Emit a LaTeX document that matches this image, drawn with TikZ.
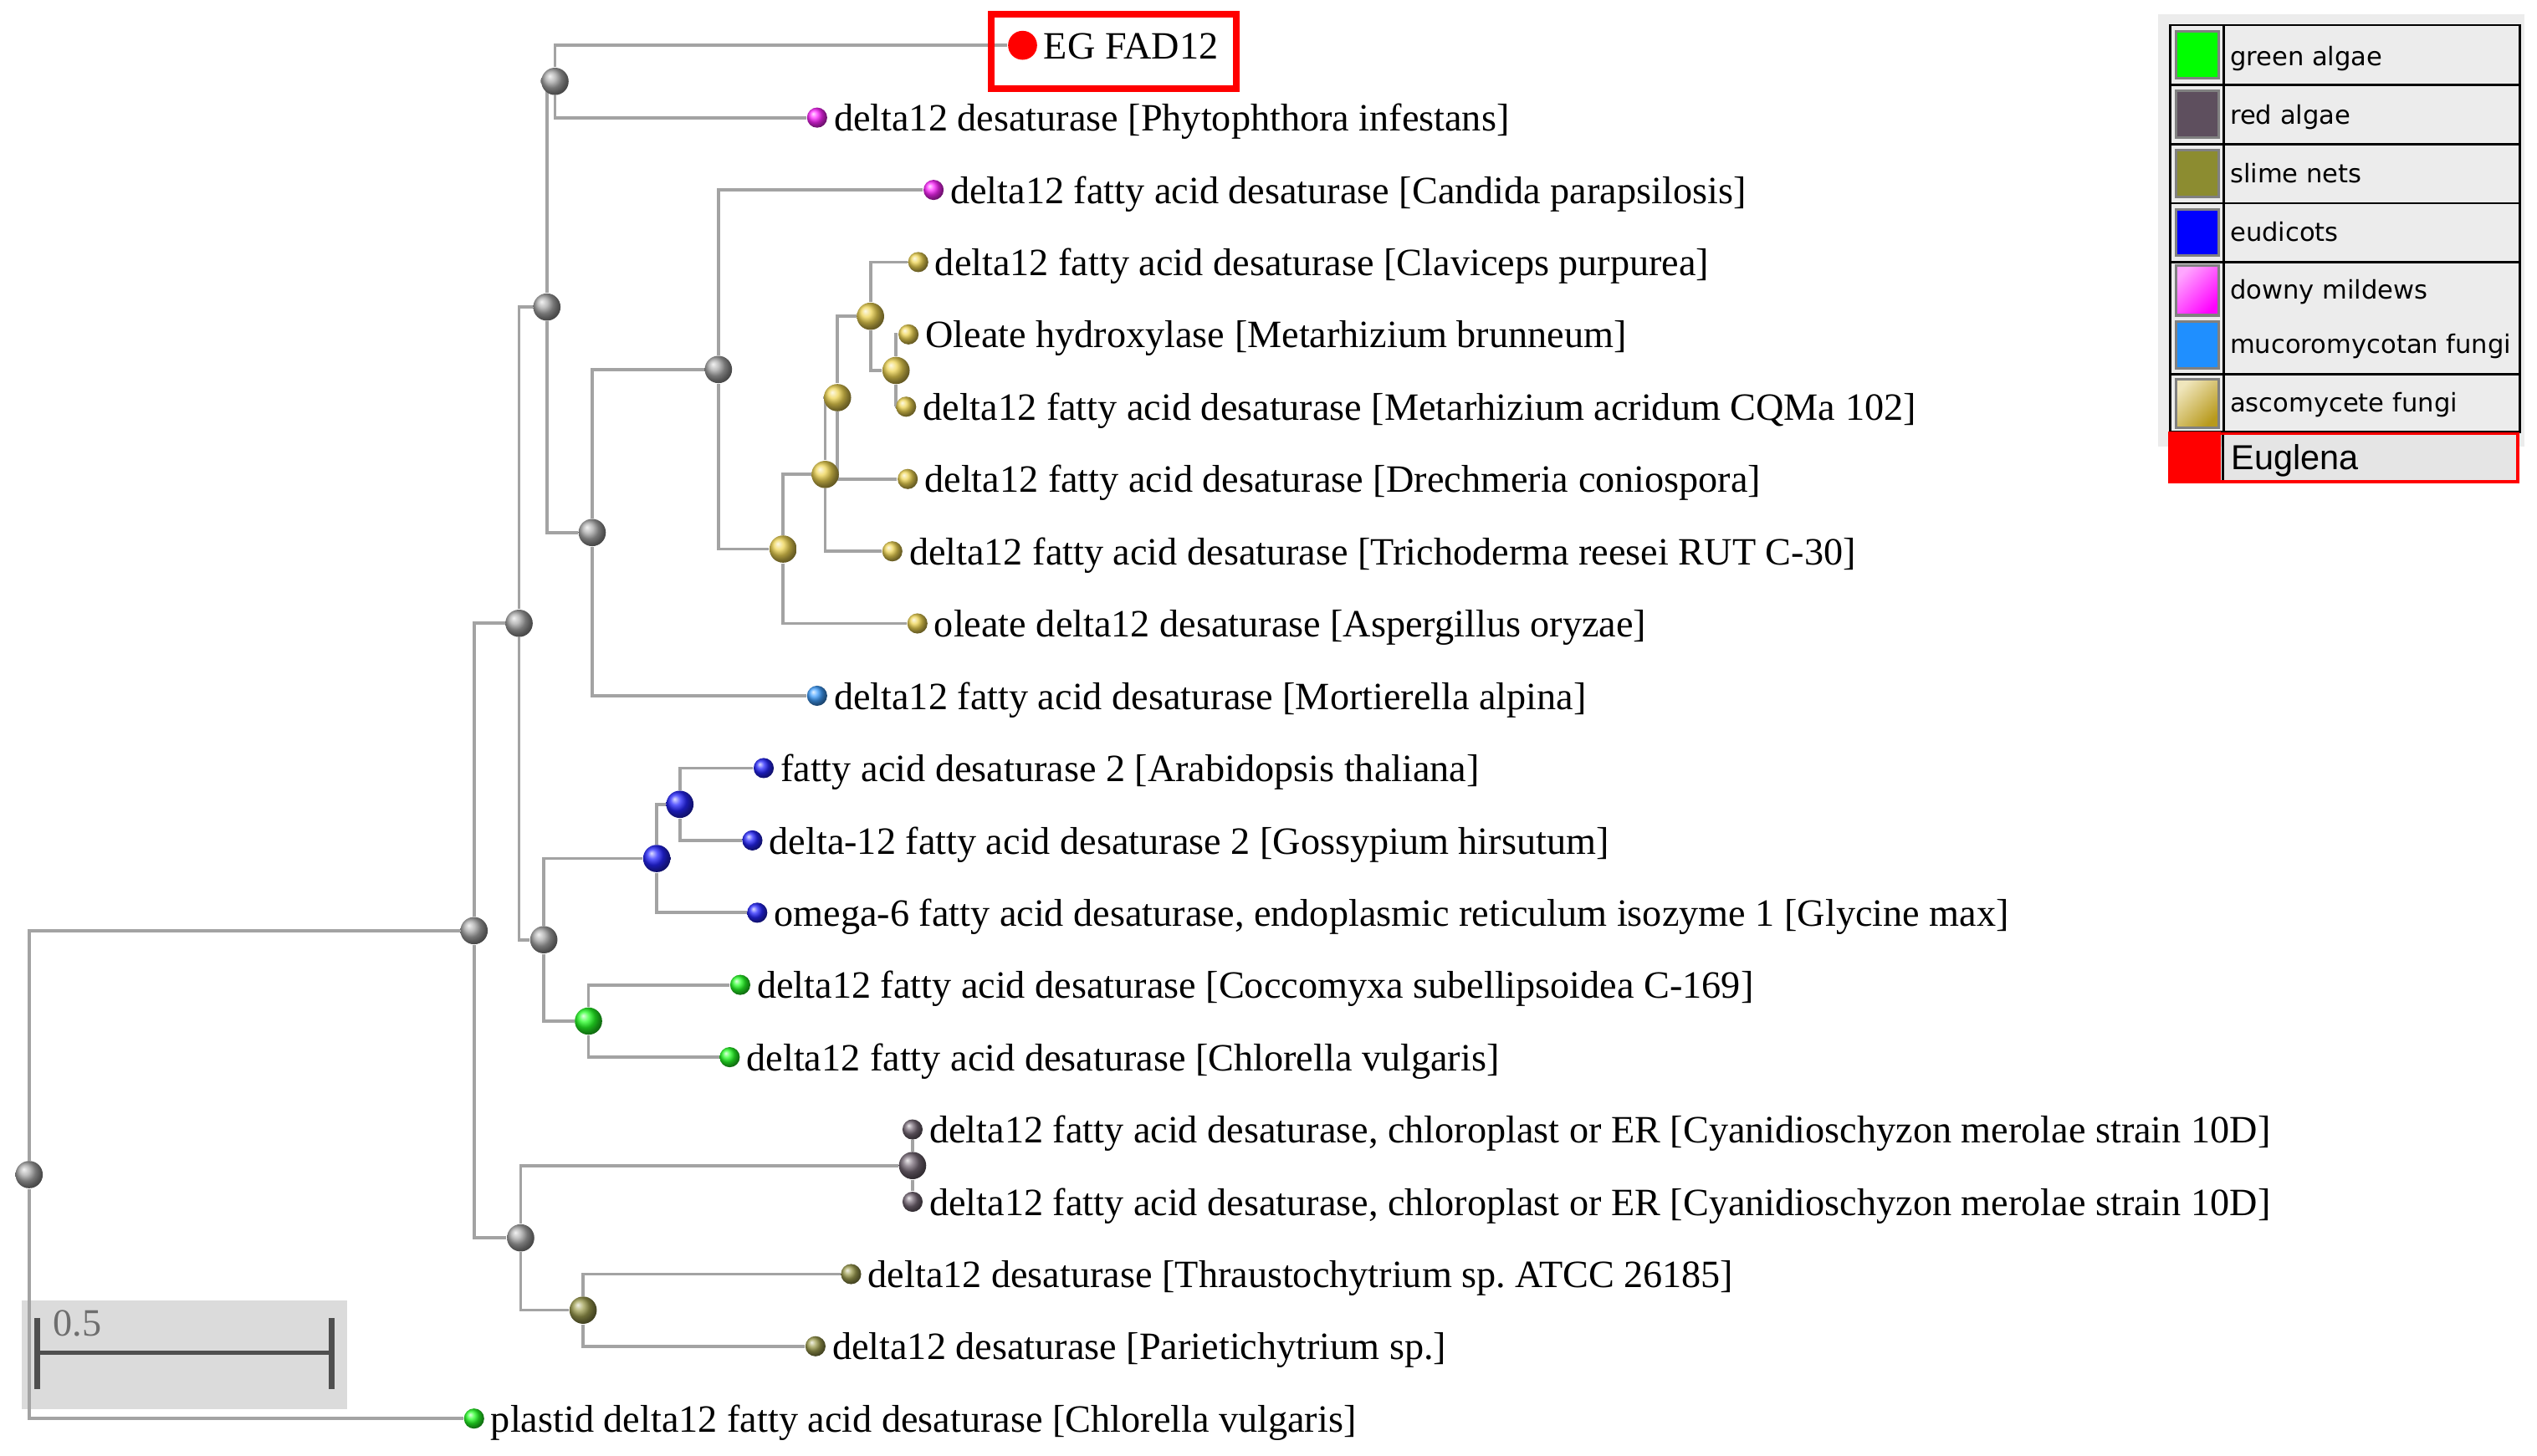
\documentclass[tikz,border=0pt]{standalone}
\usepackage{fontspec}
\setmainfont{Liberation Serif}
\newfontfamily\legendfont{DejaVu Sans}
\newfontfamily\euglenafont{Liberation Sans}
\usetikzlibrary{positioning}
\usetikzlibrary{backgrounds}
\definecolor{branchgray}{rgb}{0.64, 0.64, 0.64}
\definecolor{greenalgae}{rgb}{0, 1, 0}
\definecolor{redalgae}{rgb}{0.37, 0.31, 0.37}
\definecolor{slimenets}{rgb}{0.55, 0.55, 0.19}
\definecolor{eudicots}{rgb}{0, 0, 1}
\definecolor{mildews}{rgb}{1, 0, 1}
\definecolor{mucoro}{rgb}{0.12, 0.56, 1}
\definecolor{ascomycete}{rgb}{0.8, 0.67, 0.12}
\definecolor{ascoball}{rgb}{0.92, 0.8, 0.2}
\definecolor{nodegray}{rgb}{0.6, 0.6, 0.6}
\definecolor{euglena}{rgb}{1, 0, 0}
\definecolor{cellgray}{rgb}{0.925, 0.925, 0.925}
\definecolor{eugcell}{rgb}{0.9, 0.9, 0.9}
\definecolor{scalebox}{rgb}{0.86, 0.86, 0.86}
\definecolor{scalebar}{rgb}{0.31, 0.31, 0.31}
\definecolor{scaletext}{rgb}{0.43, 0.43, 0.43}
\tikzset{branch/.style = {draw=branchgray, line width=1.1pt},
         leafball/.style = {circle, inner sep=0pt, minimum size=7.1pt, ball color=#1!85!white},
         innerball/.style = {circle, inner sep=0pt, minimum size=9.6pt, ball color=#1!85!white},
         innerball/.default = nodegray,
         taxon/.style = {inner sep=1pt, font=\fontsize{13.6}{16}\selectfont,
                         text height=1.15em, text depth=0.2em},
         legendtext/.style = {anchor=west, inner sep=0pt,
                              font=\legendfont\fontsize{9}{11}\selectfont,
                              text height=0.75em, text depth=0.2em},
         swatch/.style = {draw=gray, line width=0.9pt}}

\begin{document}
\begin{tikzpicture}[x=0.02cm, y=-0.02cm]
    \useasboundingbox (0, 0) rectangle (1568, 900);

    \node[innerball] (root) at (18, 726.1) {};
    \node[innerball] (nq) at (293, 575.3) {};
    \node[innerball] (nu) at (320.8, 385.3) {};
    \node[innerball] (nf) at (338, 189.8) {};
    \node[innerball] (nep) at (343, 50.3) {};
    \node[innerball] (nm) at (366, 329.2) {};
    \node[innerball] (nc) at (444, 228.4) {};
    \node[innerball=ascoball] (na1) at (484, 339.4) {};
    \node[innerball=ascoball] (na2) at (510, 293.3) {};
    \node[innerball=ascoball] (na3) at (517.6, 245.8) {};
    \node[innerball=ascoball] (na4) at (538, 195.5) {};
    \node[innerball=ascoball] (na5) at (553.8, 229) {};
    \node[innerball] (np) at (336.1, 580.9) {};
    \node[innerball=eudicots] (nb2) at (405.9, 530.7) {};
    \node[innerball=eudicots] (nb1) at (420.2, 497.2) {};
    \node[innerball=greenalgae] (ng) at (363.7, 631.2) {};
    \node[innerball] (nr) at (321.8, 765.2) {};
    \node[innerball=redalgae] (ncy) at (564, 720.5) {};
    \node[innerball=slimenets] (nt) at (360.4, 809.9) {};

    \node[circle, inner sep=0pt, minimum size=10.2pt, fill=euglena] (eg) at (632, 28) {};
    \node[taxon, right=1pt of eg] (egname) {EG FAD12};
    \node[leafball=mildews] (phyto) at (505, 72.7) {};
    \node[taxon, right=1pt of phyto] (phytoname) {delta12 desaturase [Phytophthora infestans]};
    \node[leafball=mildews] (candida) at (577, 117.4) {};
    \node[taxon, right=1pt of candida] (candidaname) {delta12 fatty acid desaturase [Candida parapsilosis]};
    \node[leafball=ascoball] (clavi) at (567.5, 162) {};
    \node[taxon, right=1pt of clavi] (claviname) {delta12 fatty acid desaturase [Claviceps purpurea]};
    \node[leafball=ascoball] (brunneum) at (561.5, 206.7) {};
    \node[taxon, right=1pt of brunneum] (brunneumname) {Oleate hydroxylase [Metarhizium brunneum]};
    \node[leafball=ascoball] (acridum) at (560, 251.4) {};
    \node[taxon, right=1pt of acridum] (acridumname) {delta12 fatty acid desaturase [Metarhizium acridum CQMa 102]};
    \node[leafball=ascoball] (drech) at (561, 296.1) {};
    \node[taxon, right=1pt of drech] (drechname) {delta12 fatty acid desaturase [Drechmeria coniospora]};
    \node[leafball=ascoball] (tricho) at (551.5, 340.8) {};
    \node[taxon, right=1pt of tricho] (trichoname) {delta12 fatty acid desaturase [Trichoderma reesei RUT C-30]};
    \node[leafball=ascoball] (asper) at (567, 385.4) {};
    \node[taxon, right=1pt of asper] (aspername) {oleate delta12 desaturase [Aspergillus oryzae]};
    \node[leafball=mucoro] (morti) at (505, 430.1) {};
    \node[taxon, right=1pt of morti] (mortiname) {delta12 fatty acid desaturase [Mortierella alpina]};
    \node[leafball=eudicots] (arabi) at (472, 474.8) {};
    \node[taxon, right=1pt of arabi] (arabiname) {fatty acid desaturase 2 [Arabidopsis thaliana]};
    \node[leafball=eudicots] (gossy) at (465, 519.5) {};
    \node[taxon, right=1pt of gossy] (gossyname) {delta-12 fatty acid desaturase 2 [Gossypium hirsutum]};
    \node[leafball=eudicots] (glycine) at (468, 564.2) {};
    \node[taxon, right=1pt of glycine] (glycinename) {omega-6 fatty acid desaturase, endoplasmic reticulum isozyme 1 [Glycine max]};
    \node[leafball=greenalgae] (cocco) at (457.5, 608.8) {};
    \node[taxon, right=1pt of cocco] (cocconame) {delta12 fatty acid desaturase [Coccomyxa subellipsoidea C-169]};
    \node[leafball=greenalgae] (chlor) at (451, 653.5) {};
    \node[taxon, right=1pt of chlor] (chlorname) {delta12 fatty acid desaturase [Chlorella vulgaris]};
    \node[leafball=redalgae] (cyano1) at (564, 698.2) {};
    \node[taxon, right=1pt of cyano1] (cyano1name) {delta12 fatty acid desaturase, chloroplast or ER [Cyanidioschyzon merolae strain 10D]};
    \node[leafball=redalgae] (cyano2) at (564, 742.9) {};
    \node[taxon, right=1pt of cyano2] (cyano2name) {delta12 fatty acid desaturase, chloroplast or ER [Cyanidioschyzon merolae strain 10D]};
    \node[leafball=slimenets] (thraus) at (526, 787.6) {};
    \node[taxon, right=1pt of thraus] (thrausname) {delta12 desaturase [Thraustochytrium sp.\ ATCC 26185]};
    \node[leafball=slimenets] (pariet) at (504, 832.2) {};
    \node[taxon, right=1pt of pariet] (parietname) {delta12 desaturase [Parietichytrium sp.]};
    \node[leafball=greenalgae] (plastid) at (293, 876.9) {};
    \node[taxon, right=1pt of plastid] (plastidname) {plastid delta12 fatty acid desaturase [Chlorella vulgaris]};

    \draw[euglena, line width=2.4pt] (612.7, 9) rectangle (764.3, 54.7);

    \begin{pgfonlayer}{background}
        \fill[scalebox] (13.4, 803.8) rectangle (214.8, 870.9);
        \draw[branch] (plastid) -| (root) |- (nq);
        \draw[branch] (nu) -| (nq) |- (nr);
        \draw[branch] (nf) -| (nu) |- (np);
        \draw[branch] (nep) -| (nf) |- (nm);
        \draw[branch] (eg) -| (nep) |- (phyto);
        \draw[branch] (nc) -| (nm) |- (morti);
        \draw[branch] (candida) -| (nc) |- (na1);
        \draw[branch] (na2) -| (na1) |- (asper);
        \draw[branch] (na3) -| (na2) |- (tricho);
        \draw[branch] (na4) -| (na3) |- (drech);
        \draw[branch] (clavi) -| (na4) |- (na5);
        \draw[branch] (brunneum) -| (na5) |- (acridum);
        \draw[branch] (nb2) -| (np) |- (ng);
        \draw[branch] (nb1) -| (nb2) |- (glycine);
        \draw[branch] (arabi) -| (nb1) |- (gossy);
        \draw[branch] (cocco) -| (ng) |- (chlor);
        \draw[branch] (ncy) -| (nr) |- (nt);
        \draw[branch] (cyano1) -- (ncy) -- (cyano2);
        \draw[branch] (thraus) -| (nt) |- (pariet);
    \end{pgfonlayer}

    \draw[scalebar, line width=1.7pt] (22.9, 836.2) -- (205, 836.2);
    \draw[scalebar, line width=2pt] (22.9, 814.7) -- (22.9, 858.7);
    \draw[scalebar, line width=2pt] (205, 814.7) -- (205, 858.7);
    \node[anchor=base west, inner sep=0pt, text=scaletext, font=\fontsize{13.6}{16}\selectfont] (scalelabel) at (32.6, 825.7) {0.5};

    \fill[cellgray] (1333.6, 8.9) rectangle (1560.3, 276);
    \filldraw[swatch, fill=greenalgae] (1345, 19.2) rectangle (1371.3, 48.5);
    \filldraw[swatch, fill=redalgae] (1345, 56) rectangle (1371.3, 85);
    \filldraw[swatch, fill=slimenets] (1345, 92.7) rectangle (1371.3, 121.7);
    \filldraw[swatch, fill=eudicots] (1345, 129.3) rectangle (1371.3, 158);
    \shade[left color=mildews!35!white, right color=mildews, shading angle=45] (1345, 164.3) rectangle (1371.3, 194.9);
    \draw[swatch] (1345, 164.3) rectangle (1371.3, 194.9);
    \filldraw[swatch, fill=mucoro] (1345, 198.9) rectangle (1371.3, 227.5);
    \shade[left color=ascomycete!30!white, right color=ascomycete!90!black, shading angle=45] (1345, 234.5) rectangle (1371.3, 264.2);
    \draw[swatch] (1345, 234.5) rectangle (1371.3, 264.2);
    \draw[line width=0.8pt] (1341.4, 15.5) rectangle (1557.2, 267.1);
    \draw[line width=0.8pt] (1374.5, 15.5) -- (1374.5, 267.1);
    \draw[line width=0.8pt] (1341.4, 52.4) -- (1557.2, 52.4);
    \draw[line width=0.8pt] (1341.4, 89) -- (1557.2, 89);
    \draw[line width=0.8pt] (1341.4, 125.6) -- (1557.2, 125.6);
    \draw[line width=0.8pt] (1341.4, 161.9) -- (1557.2, 161.9);
    \draw[line width=0.8pt] (1341.4, 231.5) -- (1557.2, 231.5);
    \node[legendtext] (greentext) at (1378, 35.6) {green algae};
    \node[legendtext] (redtext) at (1378, 71.9) {red algae};
    \node[legendtext] (slimetext) at (1378, 108.3) {slime nets};
    \node[legendtext] (eudicottext) at (1378, 144.5) {eudicots};
    \node[legendtext] (mildewtext) at (1378, 180) {downy mildews};
    \node[legendtext] (mucorotext) at (1378, 213.7) {mucoromycotan fungi};
    \node[legendtext] (ascotext) at (1378, 249.8) {ascomycete fungi};

    \fill[eugcell] (1374, 268) rectangle (1556, 298);
    \fill[euglena] (1340, 267) rectangle (1372.5, 298.8);
    \draw[line width=0.8pt] (1373.8, 268.6) -- (1373.8, 297.8);
    \draw[euglena, line width=1.1pt] (1341, 268) rectangle (1556.2, 297.8);
    \node[anchor=west, inner sep=0pt, font=\euglenafont\fontsize{12.2}{14}\selectfont,
          text height=0.716em, text depth=0pt] (euglenatext) at (1378.8, 284) {Euglena};
\end{tikzpicture}
\end{document}
